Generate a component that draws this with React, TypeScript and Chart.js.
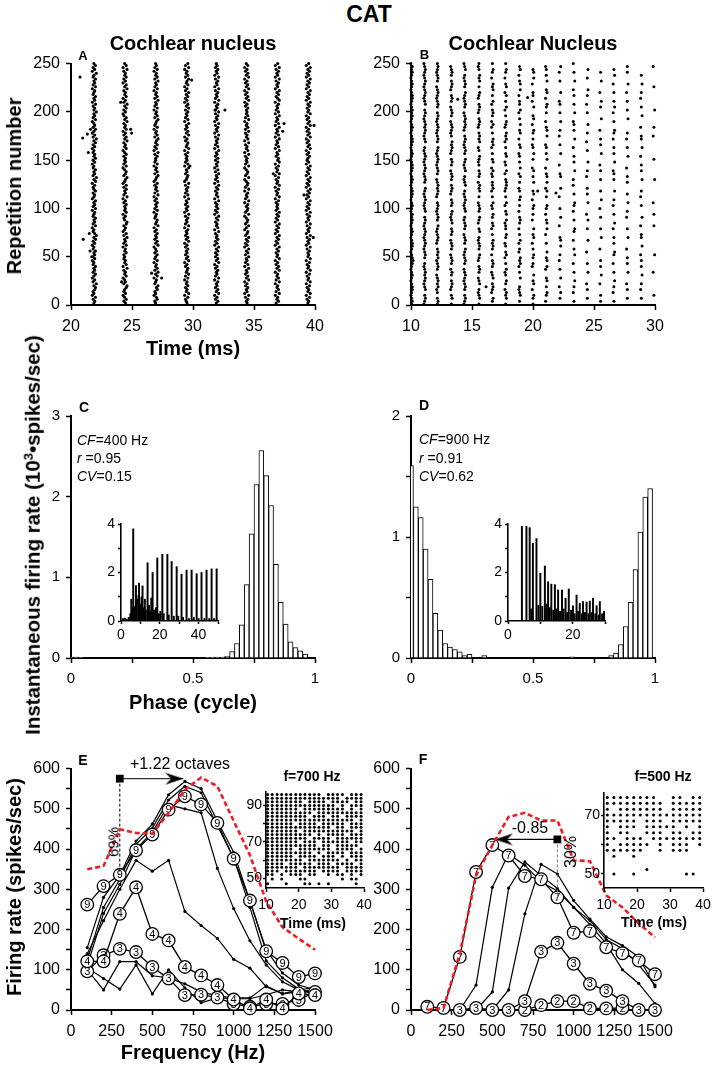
import React, { useEffect, useRef } from "react";
import { Chart, registerables } from "chart.js";

Chart.register(...registerables);

const FONT = '"Liberation Sans", Arial, Helvetica, sans-serif';
Chart.defaults.font.family = FONT;
Chart.defaults.color = "#000";

/* ===== Panel A : raster, cochlear nucleus (spike columns every ~2.5 ms) ===== */
const A_SPIKE_TIMES = [21.91, 24.43, 26.97, 29.48, 31.94, 34.4, 36.91, 39.45];
// one character per 2 repetitions (2..250); digit = small timing jitter, "." = no spike
const A_JITTER = [
  "4536243564735246354634253" + "5463425364753426354634526" + "3546245364352647354634253" + "6453425364735246354263547" + "4536254634526354634725364",
  "5364253467354264537264534" + "3645263547362453674352645" + "4635273546362457356426354" + "5364264537463526453746325" + "3647352645374625364537264",
  "4365243657345264736452634" + "6354274635463527456345263" + "5463527364536245736452634" + "4637253645736452634573645" + "2635473645263547364526354",
  "5436274536452637456352746" + "3546352746354627354637254" + "6354726354637245635472635" + "4536274563527463547263546" + "3746253647352645736452736",
  "4635274635462735463527463" + "5364725364537264536472536" + "4537264536472635473625463" + "6354726354637254637254637" + "3546273546372546372546354",
  "5463725463527463547263547" + "3647253647356247356427356" + "4627354627356427356427354" + "5372645372645373645273645" + "4635274635274635274635264",
  "3645273645273645274635274" + "5364725364725364725364735" + "4536274536274536274536275" + "6354726354726354726354726" + "3546275364725463725463725",
  "4536274536274536274536274" + "5463725463725463725463725" + "3647253647253647253647253" + "4635274635274635274635274" + "5364725364725364725364725",
];
const A_OUTLIER_TIMES = [20.74, 20.96, 21.34, 21.42, 21.6, 21.0, 21.5, 21.56, 21.7, 24.07, 24.89, 24.97, 24.15, 26.61, 27.43, 29.89, 29.75, 31.8, 32.62, 36.58, 37.46, 37.35, 39.1, 39.92, 39.86];
const A_OUTLIER_REPS = [236, 173, 177, 158, 182, 68, 74, 56, 50, 210, 182, 178, 24, 33, 28, 233, 144, 202, 202, 136, 188, 180, 114, 186, 70];

/* ===== Panel B : raster (spike columns every ~1.1 ms) ===== */
const B_SPIKE_TIMES = [10.08, 11.15, 12.19, 13.34, 14.43, 15.6, 16.7, 17.79, 18.93, 20.03, 21.12, 22.24, 23.39, 24.48, 25.57, 26.66, 27.76, 28.91, 29.94];
// one character per 3 repetitions (1..250)
const B_JITTER = [
  "343234432343234543234" + "432343234342343234432" + "343234432343234432343" + "234343234432343234342",
  "2343.4323434323.34323" + "4323432343.432343234." + "3432343234323.4323434" + "32343.432343234323432",
  "343.3243432.34324343." + "2343234.3432343.23434" + "32.3432343234.3432343" + "2343.34323432.3432343",
  "3.43.2343.342.3432.34" + "32.343.43234.343.2343" + ".3432.343.23434.32343" + "2.3432.343.2343.3432.",
  "2343.34323432.343234." + "3432.34323.43234323.4" + "323.43234.3432343.234" + "3432.343234.34323.432",
  "3.4323.432.343.234.34" + "323.43.234.3432.3.434" + "2.343.3234.32.4343.23" + "43.2343.234.3.434.323",
  ".34.2343.432.343.2.34" + "34.3.243.34.324.3.243" + "3.3242.43.3.2434.3.24" + "2.343.24.3.434.2.34.3",
  "3.4342.34.324.3.243.3" + "2.34.3324.43.24.3.234" + "43.24.32.43.3.2434.23" + "4.3.24.3.42.43.2.34.3",
  ".3.4323..4.3.2434.23." + "24.3.2.343.2.3.34.32." + "3.42.4.3.32.43.2.43.4" + ".3.24.33.2.4.43.2.43.",
  "3.34.2.43.4..23.34.3." + "2.43.4..2.3.34.2.43.." + "4.3.42..3.4.32.3.34.2" + ".43..4.2.33..2.4.43..",
  ".2.34.3.43..24.43.4.." + "3..2.4.43.2.34..3.42." + "4.43.2..4.3.32..4.43." + "2..3.34.2.43..4.3.32.",
  "..3.4.2..4..3..2.3..4" + ".43...2..4..3...2..4." + "..43..2...4..3..2.3.." + "4..3..32..4...3..2.4.",
  ".3..2.3.4..3..2..4.3." + ".2..34..3..2.34..3..2" + ".2..4..3.3..2..4..3.3" + "2..4..3..3.2..4..3..2",
  "..3..3.2...4..3...2.." + ".4...3..4.2...4..3.3." + "..2.3..4...3..2..3..4" + "...3..2..3.4...3..4..",
  ".3.3...2..4..3.3...2." + "..4..3...3..2..4..3.." + ".3..3.2...4..3.3..2.." + ".4...3.4..2...4..3...",
  ".3..2.3.4..3..2..34.." + "3.3..2.4..3..2.3..4.." + ".3.32..4..3.3..2.34.." + "3..2.4.3..3..2..4.3..",
  "..3..3.2...4..3.3..2." + "..4..3...2.3..4..3..." + "3.3..2...4..3..2.3..." + ".4..3..3..2..4...3.3.",
  "..3..2.3..4..3.3.2..4" + "..33..2..4...3..2.3.." + ".4..3.3..2..4..33..2." + "..4..3..2.3..4..3....",
  "...3.......2.....4..." + "......3...3...2......" + ".4......3.......2..3." + "....4.......3......2.",
];
const B_OUTLIER_TIMES = [13.83, 19.56, 20.38, 21.88, 16.15];
const B_OUTLIER_REPS = [213, 215, 118, 116, 19];

/* ===== Panel C : period histogram, CF 400 Hz ===== */
const C_PHASE = [0, 0.02, 0.04, 0.56, 0.58, 0.6, 0.62, 0.64, 0.66, 0.68, 0.7, 0.72, 0.74, 0.76, 0.78, 0.8, 0.82, 0.84, 0.86, 0.88, 0.9, 0.92, 0.94, 0.96];
const C_RATE = [0.01, 0.01, 0.005, 0.005, 0.005, 0.01, 0.01, 0.02, 0.08, 0.18, 0.41, 0.91, 1.54, 2.15, 2.57, 2.26, 1.89, 1.16, 0.69, 0.42, 0.2, 0.13, 0.09, 0.05];
const C_INSET_TIMES = [13.7, 16.3, 18.7, 21.3, 23.9, 26.1, 28.7, 31.2, 33.8, 36.4, 39.0, 41.5, 44.1, 46.7, 49.3, 6.3, 7.7, 9.3, 11.1,
  1.0, 2.0, 3.0, 4.0, 4.8, 5.3, 5.8, 7.0, 8.2, 9.0, 10.0, 10.6, 11.6, 12.3, 12.8, 14.4, 15.0, 15.6, 17.0, 17.6, 18.0, 19.5, 20.3, 22.0, 24.6, 27.2, 29.5, 32.0, 35.0, 37.5, 40.0, 43.0, 45.5, 48.0];
const C_INSET_RATE = [2.4, 2.0, 2.6, 2.75, 2.75, 2.45, 2.24, 1.93, 2.1, 2.1, 1.95, 2.0, 2.1, 2.15, 2.15, 3.8, 1.46, 1.56, 1.45,
  0.1, 0.12, 0.08, 0.15, 0.3, 0.9, 0.5, 0.6, 0.9, 1.05, 0.7, 1.0, 0.55, 0.9, 0.45, 0.65, 0.4, 0.95, 0.45, 0.3, 0.55, 0.3, 0.4, 0.3, 0.25, 0.2, 0.2, 0.15, 0.1, 0.15, 0.1, 0.1, 0.1, 0.1];

/* ===== Panel D : period histogram, CF 900 Hz ===== */
const D_PHASE = [0, 0.02, 0.04, 0.06, 0.08, 0.1, 0.12, 0.14, 0.16, 0.18, 0.2, 0.22, 0.24, 0.3, 0.66, 0.82, 0.84, 0.86, 0.88, 0.9, 0.92, 0.94, 0.96, 0.98];
const D_RATE = [1.59, 1.25, 1.16, 0.9, 0.65, 0.37, 0.23, 0.12, 0.09, 0.07, 0.05, 0.02, 0.03, 0.02, 0.01, 0.02, 0.04, 0.11, 0.26, 0.46, 0.73, 1.04, 1.33, 1.4];
const D_INSET_TIMES = [4.3, 5.7, 6.7, 7.7, 8.8, 10.0, 11.4, 12.4, 13.4, 14.5, 15.5, 16.7, 17.8, 18.8, 20.1, 21.2, 22.2, 23.2, 24.3, 25.3, 26.3, 27.4, 28.4, 29.7,
  7.2, 9.4, 10.6, 11.9, 12.9, 14.0, 15.0, 16.1, 17.2, 18.3, 19.5, 20.6, 21.7, 22.8, 23.8, 24.9, 25.9, 27.0, 28.0, 29.1];
const D_INSET_RATE = [3.9, 3.9, 3.85, 3.2, 3.4, 1.97, 2.27, 1.62, 1.52, 1.5, 1.28, 1.28, 0.94, 1.32, 0.63, 1.07, 0.73, 0.8, 0.78, 0.82, 0.94, 0.63, 0.8, 0.4,
  0.5, 0.65, 0.6, 0.7, 0.55, 0.45, 0.5, 0.4, 0.5, 0.35, 0.45, 0.3, 0.4, 0.3, 0.35, 0.3, 0.35, 0.3, 0.25, 0.3];

/* ===== Panel E : rate vs frequency ===== */
const E_FREQ = [100, 200, 300, 400, 500, 600, 700, 800, 900, 1000, 1100, 1200, 1300, 1400, 1500];
const E_RED = [350, 358, 449, 440, 438, 490, 547, 578, 556, 470, 385, 270, 206, 177, 150];
const E_SERIES_9 = [262, 308, 336, 397, 436, 498, 531, 511, 465, 376, 272, 146, 117, 82, 91];
const E_SERIES_4 = [121, 121, 239, 305, 189, 173, 107, 86, 62, 26, 4, 26, 4, 41, 37];
const E_SERIES_3 = [96, 136, 152, 144, 107, 78, 37, 38, 31, 15, 8, 15, 15, 25, 45];
const E_LINE_1 = [155, 280, 335, 420, 462, 535, 568, 550, 470, 392, 270, 150, 92, 62, 50];
const E_LINE_2 = [125, 255, 325, 412, 452, 522, 556, 540, 458, 378, 255, 122, 80, 52, 42];
const E_LINE_3 = [110, 240, 312, 400, 442, 510, 500, 490, 352, 252, 172, 112, 70, 50, 40];
const E_LINE_4 = [140, 222, 300, 372, 345, 372, 245, 210, 178, 126, 104, 58, 41, 49, 57];
const E_LINE_5 = [100, 50, 120, 120, 85, 80, 65, 45, 35, 30, 30, 60, 40, 45, 50];
const E_LINE_6 = [105, 78, 52, 112, 40, 100, 55, 18, 30, 28, 28, 38, 50, 45, 45];
const E_ARROW_X = [300, 690];
const E_ARROW_Y = [575, 575];
const E_DROP_X = [300, 300];
const E_DROP_Y = [575, 336];
const E_RASTER_TIMES = [10.5, 11.9, 13.4, 14.8, 16.2, 17.6, 19.1, 20.5, 21.9, 23.4, 24.8, 26.2, 27.6, 29.1, 30.5, 31.9, 33.4, 34.8, 36.2, 37.6, 39.1];
const E_RASTER_REPS = [96, 94, 92, 90, 88, 86, 84, 82, 80, 78, 76, 74, 72, 70, 68, 66, 64, 62, 60, 58, 56, 54, 52, 49.5, 47];
const E_RASTER_ROWS = [
  "111111111111.1111.111",
  "1111111111111111.1111",
  "11111111.1111.1111.11",
  "111111111111111.1.111",
  "1111111.111111111.1.1",
  "1111111111.1111111111",
  "111111111.111.11.1111",
  "1111111111111111111.1",
  "111111.1111.11111.111",
  "11111111111111.11.111",
  "1111111.11111111111.1",
  "1111111111.1.1111.111",
  "111111111.1111.111111",
  "1111111.111.111111.11",
  "11111111111.11.11111.",
  "111111.1111111.1111.1",
  "1111111111.1.1111.111",
  "111111.1111.111.1.111",
  "11111111.1111111.1.11",
  "1111.11111.111.1111.1",
  "1111111.11111111.1111",
  "111.1111111.1111.1111",
  "11.1.111.11..1.11.1.1",
  ".1.1...11.......1.11.",
  "1...1...11.1.1.....1.",
];

/* ===== Panel F : rate vs frequency ===== */
const F_FREQ = [100, 200, 300, 400, 500, 600, 700, 800, 900, 1000, 1100, 1200, 1300, 1400, 1500];
const F_RED = [0, 5, 140, 334, 410, 480, 490, 471, 471, 372, 370, 285, 255, 215, 181];
const F_SERIES_7 = [8, 5, 132, 343, 410, 384, 333, 325, 280, 192, 196, 156, 141, 123, 89];
const F_SERIES_3_FREQ = [300, 400, 500, 600, 700, 800, 900, 1000, 1100, 1200, 1300, 1400, 1500];
const F_SERIES_3 = [0, 5, 0, 0, 22, 145, 167, 115, 65, 48, 22, 0, 0];
const F_SERIES_2_FREQ = [700, 800, 900, 1000, 1100, 1200, 1300];
const F_SERIES_2 = [0, 12, 22, 22, 4, 4, 5];
const F_LINE_A_FREQ = [300, 400, 500, 600, 700, 800, 900, 1000, 1100, 1200, 1300, 1400, 1500];
const F_LINE_A = [0, 62, 305, 388, 360, 318, 296, 255, 222, 175, 152, 112, 62];
const F_LINE_B_FREQ = [400, 500, 600, 700, 800, 900, 1000, 1100, 1200, 1300, 1400, 1500];
const F_LINE_B = [0, 45, 303, 368, 334, 302, 255, 212, 165, 100, 66, 16];
const F_LINE_C_FREQ = [500, 600, 700, 800, 900, 1000, 1100, 1200, 1300, 1400, 1500];
const F_LINE_C = [0, 50, 239, 362, 338, 272, 226, 182, 160, 132, 58];
const F_ARROW_X = [900, 516];
const F_ARROW_Y = [424, 424];
const F_DROP_X = [900, 900];
const F_DROP_Y = [424, 280];
const F_RASTER_TIMES = [11, 13, 15, 17, 19, 21, 23, 25, 27, 29, 31, 33, 35, 37, 39];
const F_RASTER_REPS = [76, 74, 72, 70, 68, 66, 64, 62, 60, 58, 56, 51.5, 50];
const F_RASTER_ROWS = [
  "11111111..11.11",
  "111111111.11111",
  "1.1111111.11111",
  "111111111111111",
  "11111.111.11111",
  "1.111.11111.1.1",
  "1.11..111.11.11",
  "11.111.11111111",
  "1.11111.1.111.1",
  "111111..1.111..",
  ".1..1..........",
  "......1........",
  ".1..1.......11.",
];

/* ===== helpers ===== */
function columnPoints(times: number[], cols: string[], repStart: number, repStep: number, center: number, scale: number) {
  const pts: any[] = [];
  cols.forEach((s, i) => {
    for (let j = 0; j < s.length; j++) {
      const c = s[j];
      if (c === ".") continue;
      const rep = repStart + j * repStep;
      if (rep > 250) break;
      pts.push({ x: times[i] + (Number(c) - center) * scale, y: rep });
    }
  });
  return pts;
}
function rowPoints(times: number[], reps: number[], rows: string[]) {
  const pts: any[] = [];
  rows.forEach((r, i) => {
    for (let k = 0; k < r.length && k < times.length; k++) if (r[k] === "1") pts.push({ x: times[k], y: reps[i] });
  });
  return pts;
}
const zip = (xs: number[], ys: number[]) => xs.map((x, i) => ({ x, y: ys[i] }));

// draws circled-number markers crisply at each point of datasets carrying `markerLabel`
const circleMarkerPlugin = {
  id: "circleMarkers",
  afterDatasetDraw(chart: any, args: any) {
    const ds = chart.data.datasets[args.index];
    if (!ds || !ds.markerLabel) return;
    const ctx = chart.ctx;
    ctx.save();
    ctx.font = `11px ${FONT}`;
    ctx.textAlign = "center";
    ctx.textBaseline = "middle";
    for (const el of args.meta.data) {
      ctx.beginPath();
      ctx.arc(el.x, el.y, 6.3, 0, Math.PI * 2);
      ctx.fillStyle = "#fff";
      ctx.fill();
      ctx.lineWidth = 1.3;
      ctx.strokeStyle = "#000";
      ctx.stroke();
      ctx.fillStyle = "#000";
      ctx.fillText(ds.markerLabel, el.x, el.y + 0.6);
    }
    ctx.restore();
  },
};

function arrowHead(dir: number) {
  const c = document.createElement("canvas");
  c.width = 40; c.height = 14;
  const g = c.getContext("2d")!;
  const tx = 20, ty = 7;
  g.fillStyle = "#000"; g.beginPath();
  g.moveTo(tx, ty); g.lineTo(tx - dir * 18, ty - 6); g.lineTo(tx - dir * 12, ty); g.lineTo(tx - dir * 18, ty + 6); g.closePath(); g.fill();
  return c;
}

const PL = 6, PR = 30, PT = 14, PB = 4, YW = 48, XH = 36;
const fmt = (v: number) => String(Math.round(v * 1000) / 1000);

function axis(o: any) {
  return {
    type: "linear", position: o.pos, min: o.min, max: o.max, offset: false,
    border: { display: true, color: "#000", width: o.bw ?? 2 },
    grid: { display: true, drawOnChartArea: false, drawTicks: true, tickLength: o.tl ?? 5, tickWidth: o.tw ?? 1.5, tickColor: "#000", color: "#000", offset: false },
    ticks: {
      stepSize: o.step, autoSkip: false, maxRotation: 0, minRotation: 0, includeBounds: false,
      padding: o.pad ?? 6, color: "#000", font: { size: o.fs ?? 16, family: FONT },
      callback: (v: number) => (o.show ? (o.show(v) ? fmt(v) : "") : fmt(v)),
    },
    afterFit: (s: any) => { if (o.pos === "left") s.width = YW; else s.height = XH; },
  };
}

function ChartCanvas({ area, make, z }: any) {
  const ref = useRef<HTMLCanvasElement>(null);
  const w = PL + YW + area.w + PR;
  const h = PT + area.h + XH + PB;
  useEffect(() => {
    const cfg = make();
    cfg.options = {
      responsive: false, animation: false, devicePixelRatio: 1, events: [],
      layout: { padding: { left: PL, right: PR, top: PT, bottom: PB } },
      plugins: { legend: { display: false }, tooltip: { enabled: false }, title: { display: false } },
      ...cfg.options,
    };
    const chart = new Chart(ref.current!, cfg);
    return () => chart.destroy();
  }, []);
  return (
    <canvas ref={ref} width={w} height={h}
      style={{ position: "absolute", left: area.x - PL - YW, top: area.y - PT, width: w, height: h, zIndex: z }} />
  );
}

const halfStep = (v: number) => Math.abs(v * 2 - Math.round(v * 2)) < 1e-9;

function rasterCfg(points: any[], x: any, y: any, r = 1.5) {
  return {
    type: "scatter",
    data: { datasets: [{ data: points, pointRadius: r, pointBackgroundColor: "#000", pointBorderWidth: 0, clip: false }] },
    options: { scales: { x, y } },
  };
}
function histCfg(xs: number[], ys: number[], x: any, y: any) {
  return {
    type: "bar",
    data: { datasets: [{ data: zip(xs, ys), backgroundColor: "#fff", borderColor: "#000", borderWidth: 1, barPercentage: 1, categoryPercentage: 1 }] },
    options: { scales: { x, y } },
  };
}
function spikeCfg(xs: number[], ys: number[], x: any, y: any) {
  return {
    type: "bar",
    data: { datasets: [{ data: zip(xs, ys), backgroundColor: "#000", borderWidth: 0, barThickness: 1.3 }] },
    options: { scales: { x, y } },
  };
}
const plainLine = (data: any[]) => ({ data, showLine: true, borderColor: "#000", borderWidth: 1.2, pointRadius: 1.6, pointBackgroundColor: "#000", pointBorderWidth: 0, clip: false });
const markLine = (data: any[], label: string) => ({ data, markerLabel: label, showLine: true, borderColor: "#000", borderWidth: 1.3, pointRadius: 0, clip: false });
const redLine = (data: any[]) => ({ data, showLine: true, borderColor: "#ee1c25", borderWidth: 2.6, borderDash: [5, 3], pointRadius: 0, clip: false });

function tuningCfg(extra: any[], series: any[]) {
  return {
    type: "scatter",
    data: { datasets: [...extra, ...series] },
    plugins: [circleMarkerPlugin],
    options: {
      scales: {
        x: axis({ pos: "bottom", min: 0, max: 1500, step: 250, pad: 7 }),
        y: axis({ pos: "left", min: 0, max: 600, step: 50, show: (v: number) => v % 100 === 0 }),
      },
    },
  };
}

const PANELS = [
  {
    area: { x: 71, y: 62, w: 244, h: 243 }, z: 1,
    make: () => rasterCfg(
      [...columnPoints(A_SPIKE_TIMES, A_JITTER, 2, 2, 4.5, 0.065), ...zip(A_OUTLIER_TIMES, A_OUTLIER_REPS)],
      axis({ pos: "bottom", min: 20, max: 40, step: 5, pad: 7 }),
      axis({ pos: "left", min: 0, max: 250, step: 50 }), 1.55),
  },
  {
    area: { x: 411, y: 62, w: 244, h: 243 }, z: 1,
    make: () => rasterCfg(
      [...columnPoints(B_SPIKE_TIMES, B_JITTER, 1, 3, 3.5, 0.06), ...zip(B_OUTLIER_TIMES, B_OUTLIER_REPS)],
      axis({ pos: "bottom", min: 10, max: 30, step: 5, pad: 7 }),
      axis({ pos: "left", min: 0, max: 250, step: 50 }), 1.5),
  },
  {
    area: { x: 71, y: 415, w: 244, h: 243 }, z: 1,
    make: () => histCfg(C_PHASE, C_RATE,
      axis({ pos: "bottom", min: 0, max: 1, step: 0.25, pad: 7, fs: 15, show: halfStep }),
      axis({ pos: "left", min: 0, max: 3, step: 1, fs: 15 })),
  },
  {
    area: { x: 411, y: 415, w: 244, h: 243 }, z: 1,
    make: () => histCfg(D_PHASE, D_RATE,
      axis({ pos: "bottom", min: 0, max: 1, step: 0.25, pad: 7, fs: 15, show: halfStep }),
      axis({ pos: "left", min: 0, max: 2, step: 0.5, fs: 15, show: (v: number) => Number.isInteger(v) })),
  },
  {
    area: { x: 121, y: 524, w: 97, h: 97 }, z: 2,
    make: () => spikeCfg(C_INSET_TIMES, C_INSET_RATE,
      axis({ pos: "bottom", min: 0, max: 50, step: 10, tl: 3, pad: 3, fs: 14, bw: 1.6, show: (v: number) => v % 20 === 0 }),
      axis({ pos: "left", min: 0, max: 4, step: 1, tl: 3, pad: 3, fs: 14, bw: 1.6, show: (v: number) => v % 2 === 0 })),
  },
  {
    area: { x: 508, y: 524, w: 97, h: 97 }, z: 2,
    make: () => spikeCfg(D_INSET_TIMES, D_INSET_RATE,
      axis({ pos: "bottom", min: 0, max: 30, step: 10, tl: 3, pad: 3, fs: 14, bw: 1.6, show: (v: number) => v % 20 === 0 }),
      axis({ pos: "left", min: 0, max: 4, step: 1, tl: 3, pad: 3, fs: 14, bw: 1.6, show: (v: number) => v % 2 === 0 })),
  },
  {
    area: { x: 71, y: 767, w: 244, h: 243 }, z: 1,
    make: () => tuningCfg(
      [
        redLine(zip(E_FREQ, E_RED)),
        { data: [{ x: E_ARROW_X[1], y: E_ARROW_Y[1] }], pointStyle: arrowHead(1), pointRadius: 6, clip: false },
        { data: [{ x: E_ARROW_X[0], y: E_ARROW_Y[0] }], pointStyle: "rect", pointRadius: 5.5, pointBackgroundColor: "#000", pointBorderWidth: 0, clip: false },
        { data: zip(E_ARROW_X, E_ARROW_Y), showLine: true, borderColor: "#333", borderWidth: 1.2, pointRadius: 0, clip: false },
        { data: zip(E_DROP_X, E_DROP_Y), showLine: true, borderColor: "#000", borderWidth: 1, borderDash: [3, 2], pointRadius: 0, clip: false },
      ],
      [
        markLine(zip(E_FREQ, E_SERIES_9), "9"),
        markLine(zip(E_FREQ, E_SERIES_4), "4"),
        markLine(zip(E_FREQ, E_SERIES_3), "3"),
        plainLine(zip(E_FREQ, E_LINE_1)),
        plainLine(zip(E_FREQ, E_LINE_2)),
        plainLine(zip(E_FREQ, E_LINE_3)),
        plainLine(zip(E_FREQ, E_LINE_4)),
        plainLine(zip(E_FREQ, E_LINE_5)),
        plainLine(zip(E_FREQ, E_LINE_6)),
      ]),
  },
  {
    area: { x: 411, y: 767, w: 244, h: 243 }, z: 1,
    make: () => tuningCfg(
      [
        redLine(zip(F_FREQ, F_RED)),
        { data: [{ x: F_ARROW_X[1], y: F_ARROW_Y[1] }], pointStyle: arrowHead(-1), pointRadius: 6, clip: false },
        { data: [{ x: F_ARROW_X[0], y: F_ARROW_Y[0] }], pointStyle: "rect", pointRadius: 5.5, pointBackgroundColor: "#000", pointBorderWidth: 0, clip: false },
        { data: zip(F_ARROW_X, F_ARROW_Y), showLine: true, borderColor: "#000", borderWidth: 1.2, pointRadius: 0, clip: false },
        { data: zip(F_DROP_X, F_DROP_Y), showLine: true, borderColor: "#777", borderWidth: 1, borderDash: [3, 2], pointRadius: 0, clip: false },
      ],
      [
        markLine(zip(F_FREQ, F_SERIES_7), "7"),
        markLine(zip(F_SERIES_3_FREQ, F_SERIES_3), "3"),
        markLine(zip(F_SERIES_2_FREQ, F_SERIES_2), "2"),
        plainLine(zip(F_LINE_A_FREQ, F_LINE_A)),
        plainLine(zip(F_LINE_B_FREQ, F_LINE_B)),
        plainLine(zip(F_LINE_C_FREQ, F_LINE_C)),
      ]),
  },
  {
    area: { x: 266, y: 792, w: 98, h: 96 }, z: 2,
    make: () => rasterCfg(rowPoints(E_RASTER_TIMES, E_RASTER_REPS, E_RASTER_ROWS),
      axis({ pos: "bottom", min: 10, max: 40, step: 10, tl: 4, pad: 5, fs: 14, bw: 1.6 }),
      axis({ pos: "left", min: 44.6, max: 97.4, step: 10, tl: 3, pad: 1, fs: 14, bw: 1.6, show: (v: number) => v === 50 || v === 70 || v === 90 }), 1.5),
  },
  {
    area: { x: 604, y: 793, w: 99, h: 95 }, z: 2,
    make: () => rasterCfg(rowPoints(F_RASTER_TIMES, F_RASTER_REPS, F_RASTER_ROWS),
      axis({ pos: "bottom", min: 10, max: 40, step: 10, tl: 4, pad: 5, fs: 14, bw: 1.6 }),
      axis({ pos: "left", min: 45.2, max: 77.5, step: 10, tl: 3, pad: 1, fs: 14, bw: 1.6, show: (v: number) => v === 50 || v === 70 }), 1.5),
  },
];

function Txt({ x, y, size, bold, rot, left, children }: any) {
  return (
    <div style={{
      position: "absolute", left: x, top: y, zIndex: 3,
      transform: `${left ? "translate(0,-50%)" : "translate(-50%,-50%)"}${rot ? " rotate(-90deg)" : ""}`,
      fontFamily: FONT, fontSize: size, fontWeight: bold ? 700 : 400, lineHeight: 1, whiteSpace: "nowrap", color: "#000",
    }}>{children}</div>
  );
}

export default function App() {
  return (
    <div style={{ position: "absolute", left: 0, top: 0, width: 716, height: 1070, background: "#fff", overflow: "hidden" }}>
      {PANELS.map((p, i) => <ChartCanvas key={i} area={p.area} make={p.make} z={p.z} />)}

      <Txt x={369} y={14} size={23} bold>CAT</Txt>
      <Txt x={193} y={43} size={20} bold>Cochlear nucleus</Txt>
      <Txt x={533} y={43} size={20} bold>Cochlear Nucleus</Txt>
      <Txt x={83} y={55} size={13} bold>A</Txt>
      <Txt x={424.5} y={53.5} size={13} bold>B</Txt>
      <Txt x={84} y={407} size={14} bold>C</Txt>
      <Txt x={424} y={405} size={14} bold>D</Txt>
      <Txt x={83} y={760} size={14} bold>E</Txt>
      <Txt x={423} y={758.5} size={14} bold>F</Txt>

      <Txt x={193} y={348} size={20} bold>Time (ms)</Txt>
      <Txt x={193} y={702} size={20} bold>Phase (cycle)</Txt>
      <Txt x={193} y={1052} size={20} bold>Frequency (Hz)</Txt>
      <Txt x={14} y={186} size={20} bold rot>Repetition number</Txt>
      <Txt x={33} y={535} size={20.5} bold rot>
        Instantaneous firing rate (10<span style={{ fontSize: "0.65em", position: "relative", top: "-0.5em" }}>3</span>•spikes/sec)
      </Txt>
      <Txt x={14} y={887} size={20} bold rot>Firing rate (spikes/sec)</Txt>

      <Txt x={77} y={440} size={14} left><i>CF</i>=400 Hz</Txt>
      <Txt x={77} y={458} size={14} left><i>r</i> =0.95</Txt>
      <Txt x={77} y={476} size={14} left><i>CV</i>=0.15</Txt>
      <Txt x={419} y={439} size={14} left><i>CF</i>=900 Hz</Txt>
      <Txt x={419} y={458} size={14} left><i>r</i> =0.91</Txt>
      <Txt x={419} y={476} size={14} left><i>CV</i>=0.62</Txt>

      <Txt x={180} y={764} size={16}>+1.22 octaves</Txt>
      <Txt x={113} y={842} size={15} rot>69%</Txt>
      <Txt x={312} y={776} size={14} bold>f=700 Hz</Txt>
      <Txt x={313} y={923} size={14} bold>Time (ms)</Txt>

      <Txt x={530} y={828} size={16}>-0.85</Txt>
      <Txt x={571} y={852} size={16} rot>30%</Txt>
      <Txt x={663} y={776} size={14} bold>f=500 Hz</Txt>
      <Txt x={654} y={922} size={14} bold>Time (ms)</Txt>
    </div>
  );
}
